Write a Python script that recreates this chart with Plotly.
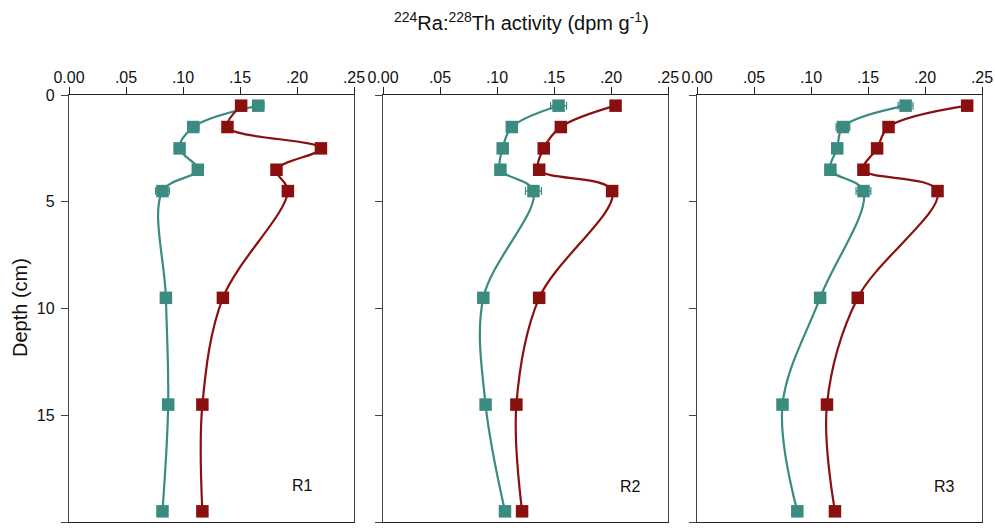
import plotly.graph_objects as go

depth = [0.5, 1.5, 2.5, 3.5, 4.5, 9.5, 14.5, 19.5]

r1_teal = [0.166, 0.109, 0.097, 0.113, 0.082, 0.085, 0.087, 0.082]
r1_red = [0.151, 0.139, 0.221, 0.182, 0.192, 0.135, 0.117, 0.117]
r2_teal = [0.154, 0.113, 0.105, 0.103, 0.132, 0.088, 0.090, 0.107]
r2_red = [0.204, 0.156, 0.141, 0.137, 0.201, 0.137, 0.117, 0.122]
r3_teal = [0.183, 0.128, 0.123, 0.117, 0.146, 0.108, 0.075, 0.088]
r3_red = [0.237, 0.168, 0.158, 0.146, 0.211, 0.141, 0.114, 0.121]

r1_teal_err = [0.005, 0.005, 0.002, 0.002, 0.006, 0.002, 0.002, 0.002]
r2_teal_err = [0.007, 0.002, 0.002, 0.002, 0.007, 0.002, 0.002, 0.002]
r3_teal_err = [0.0065, 0.006, 0.002, 0.002, 0.0065, 0.002, 0.002, 0.002]
red_err = [0.002] * 8

panel_labels = ["R1", "R2", "R3"]
label_x = [0.205, 0.217, 0.217]
label_y = [18.3, 18.35, 18.35]
x_tickvals = [0, 0.05, 0.10, 0.15, 0.20, 0.25]
x_ticktext = ["0.00", ".05", ".10", ".15", ".20", ".25"]
y_tickvals = [0, 5, 10, 15, 20]

TEAL = "#3b8b80"
RED = "#8a1010"
FONT = "Liberation Sans, Arial"

fig = go.Figure()

panels = [
    (r1_teal, r1_teal_err, r1_red),
    (r2_teal, r2_teal_err, r2_red),
    (r3_teal, r3_teal_err, r3_red),
]

W, H = 995, 528
x_domains = [(69, 354), (383, 668), (697, 982)]
y_dom = [1 - 522 / H, 1 - 95 / H]

for i, (teal, teal_err, red) in enumerate(panels):
    xa = "x" if i == 0 else f"x{i+1}"
    ya = "y" if i == 0 else f"y{i+1}"
    for vals, err, col in [(teal, teal_err, TEAL), (red, red_err, RED)]:
        fig.add_trace(go.Scatter(
            x=vals, y=depth, xaxis=xa, yaxis=ya,
            mode="lines+markers",
            line=dict(color=col, width=2.2, shape="spline", smoothing=1),
            marker=dict(symbol="square", size=12.5, color=col),
            error_x=dict(type="data", array=err, color=col, thickness=1.2, width=4),
            showlegend=False,
        ))

    d0, d1 = x_domains[i]
    fig.layout[f"xaxis{'' if i == 0 else i+1}"] = dict(
        domain=[d0 / W, d1 / W], range=[0, 0.25], side="top",
        anchor=ya, tickvals=x_tickvals, ticktext=x_ticktext,
        showline=True, linecolor="#222", linewidth=1.3, mirror=True,
        ticks="outside", ticklen=7, tickcolor="#222",
        showgrid=False, zeroline=False, automargin=False,
        ticklabelstandoff=-3,
        tickfont=dict(family=FONT, size=16, color="#111"),
    )
    fig.layout[f"yaxis{'' if i == 0 else i+1}"] = dict(
        domain=y_dom, range=[20, 0], anchor=xa,
        tickvals=y_tickvals, showticklabels=(i == 0),
        showline=True, linecolor="#444", linewidth=1.3, mirror=True,
        ticks="outside", ticklen=7, tickcolor="#444",
        showgrid=False, zeroline=False, automargin=False,
        ticklabelstandoff=3,
        tickfont=dict(family=FONT, size=16, color="#111"),
    )
    fig.add_annotation(
        x=label_x[i], y=label_y[i], xref=xa, yref=ya, text=panel_labels[i],
        xanchor="center", yanchor="middle",
        showarrow=False, font=dict(family=FONT, size=16, color="#111"),
    )

fig.add_annotation(
    x=20 / W, y=1 - 308 / H, xref="paper", yref="paper",
    text="Depth (cm)", textangle=-90, xanchor="center", yanchor="middle",
    showarrow=False, font=dict(family=FONT, size=20, color="#111"),
)

fig.add_annotation(
    x=521 / W, y=1 - 22 / H, xref="paper", yref="paper",
    text="<sup>224</sup>Ra:<sup>228</sup>Th activity (dpm g<sup>-1</sup>)",
    xanchor="center", yanchor="middle",
    showarrow=False, font=dict(family=FONT, size=20, color="#111"),
)

fig.update_layout(
    width=W, height=H, margin=dict(l=0, r=0, t=0, b=0),
    paper_bgcolor="white", plot_bgcolor="white",
)

fig.write_html("out.html")
